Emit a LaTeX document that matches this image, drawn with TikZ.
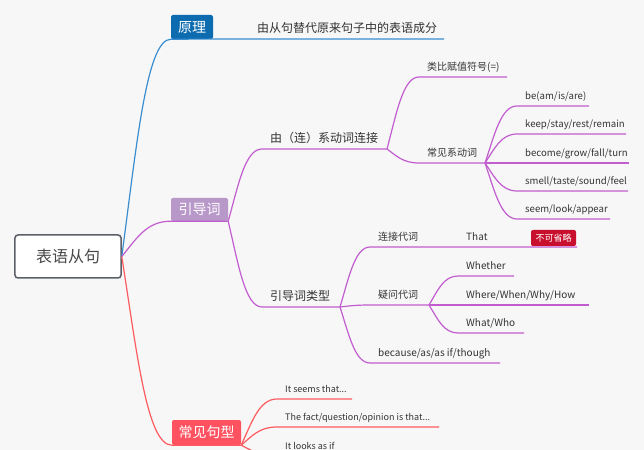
\documentclass[tikz,border=0pt]{standalone}
\usepackage{fontspec}
\setmainfont{Noto Sans CJK SC}
\usetikzlibrary{calc}
\definecolor{bgc}{HTML}{F7F7F7}
\definecolor{blueln}{HTML}{3A8ED0}
\definecolor{bluebx}{HTML}{0D6BAF}
\definecolor{purpln}{HTML}{C25DD0}
\definecolor{purpbx}{HTML}{B897C9}
\definecolor{redln}{HTML}{FF5A5F}
\definecolor{redbx}{HTML}{FF5261}
\definecolor{tagc}{HTML}{C8102E}
\definecolor{txt}{HTML}{333333}
\definecolor{rootln}{HTML}{5B6068}
\newcommand{\fsz}[1]{\fontsize{#1bp}{#1bp}\selectfont}

\begin{document}
\begin{tikzpicture}[x=1bp,y=-1bp,
    mm/.style={to path={let \p1=(\tikztostart), \p2=(\tikztotarget) in
      .. controls ({\x1+0.3*(\x2-\x1)},{\y1+0.5*(\y2-\y1)}) and ({\x2-0.5*(\x2-\x1)},\y2) .. (\tikztotarget)}},
    bl/.style={draw=blueln, line width=1.2bp},
    pl/.style={draw=purpln, line width=1.2bp},
    rl/.style={draw=redln, line width=1.2bp},
    topic/.style={rounded corners=2bp, text=white, font=\fsz{14}, inner sep=0},
    leaf/.style={anchor=south west, inner xsep=8bp, inner ysep=6bp, text depth=0pt, text=txt, font=\fsz{#1}}]
  \useasboundingbox (0,0) rectangle (644,450);
  \fill[bgc] (0,0) rectangle (644,450);
  \clip (0,0) rectangle (644,450);

  \node[draw=rootln, line width=1.5bp, fill=white, rounded corners=3bp, minimum width=106bp,
    minimum height=43bp, text=txt!90, font=\fsz{16}] (root) at (68,256.5) {表语从句};

  % 原理
  \node[topic, fill=bluebx, minimum width=42bp, minimum height=24bp] (yl) at (192,27) {原理};
  \node[leaf=12] (yl1) at (249,39) {由从句替代原来句子中的表语成分};
  \draw[bl] (root.east) to[mm] (yl.south west);
  \draw[bl] (yl.south west) -- (yl1.south west) -- ++(195,0);

  % 引导词
  \node[topic, fill=purpbx, minimum width=57bp, minimum height=23bp] (ydc) at (199.5,209.5) {引导词};
  \draw[pl] (root.east) to[mm] (ydc.south west) -- (ydc.south east);
  \node[leaf=12] (xd) at (262,149) {由（连）系动词连接};
  \draw[pl] (ydc.south east) to[mm] (xd.south west) -- ++(125,0) coordinate (xd-e);
  \node[leaf=10] (lb) at (419,77) {类比赋值符号(=)};
  \draw[pl] (xd-e) to[mm] (lb.south west) -- ++(88,0);
  \node[leaf=10] (cj) at (419,163) {常见系动词};
  \draw[pl] (xd-e) to[mm] (cj.south west) -- ++(66,0) coordinate (cj-e);
  \node[leaf=9.6] (v1) at (517,106) {be(am/is/are)};
  \node[leaf=9.6] (v2) at (517,134) {keep/stay/rest/remain};
  \node[leaf=9.6] (v3) at (517,163) {become/grow/fall/turn};
  \node[leaf=9.6] (v4) at (517,191) {smell/taste/sound/feel};
  \node[leaf=9.6] (v5) at (517,219) {seem/look/appear};
  \foreach \k/\l in {v1/72, v2/109, v3/112, v4/111, v5/93}
    \draw[pl] (cj-e) to[mm] (\k.south west) -- ++(\l,0);

  \node[leaf=12] (lx) at (262,307) {引导词类型};
  \draw[pl] (ydc.south east) to[mm] (lx.south west) -- ++(78,0) coordinate (lx-e);
  \node[leaf=10] (lj) at (370,247) {连接代词};
  \node[leaf=10] (that) at (458,247) {That};
  \draw[pl] (lx-e) to[mm] (lj.south west) -- (that.south west) -- ++(119,0);
  \node[fill=tagc, rounded corners=2bp, text=white, font=\fsz{9}, minimum width=45bp,
    minimum height=16bp, inner sep=0] (tag) at (553.5,238) {不可省略};
  \node[leaf=10] (yw) at (370,305) {疑问代词};
  \draw[pl] (lx-e) to[mm] (yw.south west) -- ++(59,0) coordinate (yw-e);
  \node[leaf=10] (w1) at (458,276) {Whether};
  \node[leaf=10] (w2) at (458,305) {Where/When/Why/How};
  \node[leaf=10] (w3) at (458,333) {What/Who};
  \foreach \k/\l in {w1/56, w2/131, w3/66}
    \draw[pl] (yw-e) to[mm] (\k.south west) -- ++(\l,0);
  \node[leaf=10] (bc) at (370,363) {because/as/as if/though};
  \draw[pl] (lx-e) to[mm] (bc.south west) -- ++(130,0);

  % 常见句型
  \node[topic, fill=redbx, minimum width=69bp, minimum height=25bp] (jx) at (206.5,432.5) {常见句型};
  \draw[rl] (root.east) to[mm] (jx.south west) -- (jx.south east);
  \node[leaf=9] (s1) at (277,399) {It seems that...};
  \node[leaf=9] (s2) at (277,427) {The fact/question/opinion is that...};
  \node[leaf=9] (s3) at (277,456) {It looks as if};
  \foreach \k/\l in {s1/75, s2/162, s3/110}
    \draw[rl] (jx.south east) to[mm] (\k.south west) -- ++(\l,0);
\end{tikzpicture}
\end{document}
